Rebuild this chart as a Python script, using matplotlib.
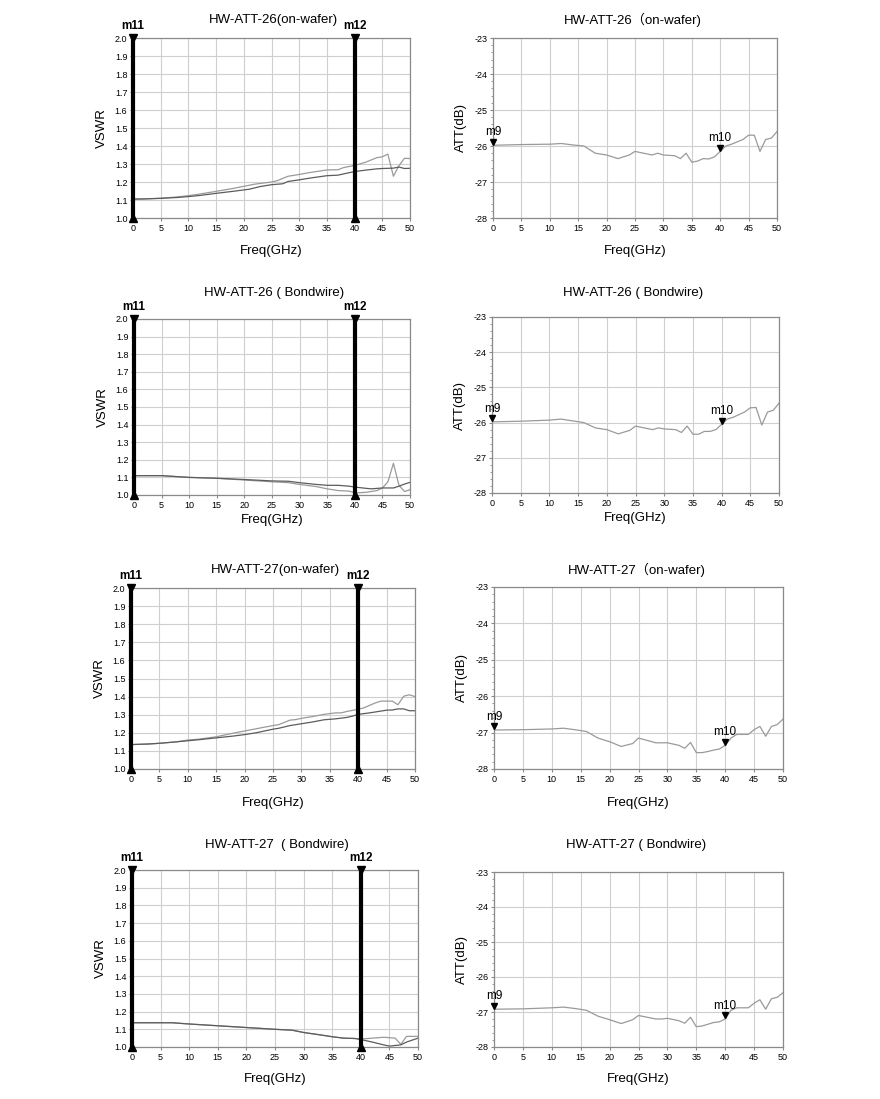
import matplotlib
matplotlib.use("Agg")
import matplotlib.pyplot as plt
from matplotlib.ticker import MultipleLocator

plt.rcParams["font.family"] = ["Liberation Sans", "DejaVu Sans"]
plt.rcParams["axes.unicode_minus"] = False

W, H = 880, 1099

# ---- VSWR data (two ports per device) ----
f26w_a = [0, 2, 5, 8, 10, 12, 15, 18, 20, 22, 25, 26, 28, 30, 32, 35, 37, 38, 40, 42, 44, 45, 46, 47, 48, 49, 50]
v26w_a = [1.105, 1.106, 1.110, 1.117, 1.124, 1.133, 1.148, 1.164, 1.176, 1.188, 1.200, 1.207, 1.232, 1.242, 1.253, 1.267, 1.268, 1.280, 1.292, 1.310, 1.335, 1.340, 1.355, 1.232, 1.290, 1.332, 1.330]
f26w_b = [0, 2, 5, 8, 10, 12, 15, 18, 20, 21, 23, 25, 27, 28, 30, 32, 35, 37, 38, 40, 42, 44, 45, 47, 48, 49, 50]
v26w_b = [1.105, 1.106, 1.109, 1.114, 1.119, 1.125, 1.137, 1.148, 1.156, 1.160, 1.175, 1.185, 1.190, 1.203, 1.212, 1.222, 1.235, 1.238, 1.245, 1.258, 1.266, 1.273, 1.275, 1.277, 1.283, 1.275, 1.276]

f26b_a = [0, 5, 10, 15, 20, 25, 28, 30, 33, 35, 37, 39, 40, 42, 44, 45, 46, 47, 48, 49, 50]
v26b_a = [1.110, 1.110, 1.100, 1.095, 1.085, 1.075, 1.070, 1.060, 1.048, 1.035, 1.025, 1.022, 1.012, 1.015, 1.025, 1.040, 1.075, 1.180, 1.055, 1.020, 1.030]
f26b_b = [0, 5, 10, 15, 20, 25, 28, 30, 33, 35, 37, 39, 40, 42, 43, 45, 47, 48, 49, 50]
v26b_b = [1.110, 1.110, 1.100, 1.095, 1.088, 1.080, 1.078, 1.070, 1.060, 1.055, 1.055, 1.050, 1.045, 1.038, 1.035, 1.040, 1.040, 1.050, 1.062, 1.072]

f27w_a = [0, 3, 5, 8, 10, 12, 15, 18, 20, 22, 25, 26, 28, 29, 30, 32, 34, 36, 37, 38, 40, 41, 43, 44, 45, 46, 47, 48, 49, 50]
v27w_a = [1.135, 1.138, 1.142, 1.150, 1.160, 1.165, 1.178, 1.198, 1.210, 1.222, 1.240, 1.245, 1.270, 1.273, 1.280, 1.290, 1.302, 1.310, 1.310, 1.318, 1.330, 1.338, 1.365, 1.375, 1.375, 1.375, 1.355, 1.402, 1.410, 1.400]
f27w_b = [0, 3, 5, 8, 10, 12, 15, 18, 20, 22, 25, 26, 28, 30, 32, 34, 36, 38, 39, 40, 42, 44, 45, 46, 47, 48, 49, 50]
v27w_b = [1.135, 1.138, 1.142, 1.150, 1.156, 1.162, 1.172, 1.182, 1.190, 1.200, 1.220, 1.225, 1.240, 1.250, 1.260, 1.272, 1.277, 1.285, 1.292, 1.302, 1.310, 1.320, 1.325, 1.326, 1.332, 1.332, 1.322, 1.322]

f27b_a = [0, 5, 7, 10, 15, 20, 25, 28, 30, 33, 35, 37, 39, 40, 42, 44, 46, 47, 48, 50]
v27b_a = [1.137, 1.137, 1.137, 1.130, 1.120, 1.110, 1.100, 1.095, 1.082, 1.068, 1.058, 1.050, 1.048, 1.045, 1.050, 1.055, 1.050, 1.015, 1.060, 1.060]
f27b_b = [0, 5, 7, 10, 15, 20, 25, 28, 30, 33, 35, 37, 39, 40, 42, 44, 45, 47, 48, 50]
v27b_b = [1.137, 1.137, 1.137, 1.130, 1.120, 1.110, 1.100, 1.095, 1.082, 1.068, 1.058, 1.050, 1.048, 1.042, 1.028, 1.012, 1.005, 1.012, 1.028, 1.050]

# ---- attenuation data ----
f_att = [0, 5, 10, 12, 14, 16, 18, 20, 22, 24, 25, 28, 29, 30, 32, 33, 34, 35, 36, 37, 38, 39, 40, 41, 42, 44, 45, 46, 47, 48, 49, 50]
a26w = [-25.98, -25.96, -25.95, -25.93, -25.97, -26.00, -26.20, -26.25, -26.35, -26.25, -26.15, -26.25, -26.20, -26.25, -26.27, -26.35, -26.20, -26.45, -26.42, -26.35, -26.36, -26.30, -26.15, -26.00, -25.95, -25.82, -25.70, -25.70, -26.15, -25.82, -25.78, -25.60]
a26b = [-25.98, -25.96, -25.93, -25.90, -25.95, -26.00, -26.15, -26.20, -26.32, -26.22, -26.10, -26.20, -26.15, -26.18, -26.20, -26.28, -26.10, -26.33, -26.33, -26.25, -26.25, -26.20, -26.05, -25.90, -25.85, -25.70, -25.58, -25.57, -26.07, -25.70, -25.65, -25.45]
a27w = [-26.93, -26.92, -26.90, -26.88, -26.92, -26.97, -27.15, -27.25, -27.38, -27.30, -27.15, -27.28, -27.28, -27.28, -27.35, -27.43, -27.27, -27.55, -27.55, -27.52, -27.48, -27.45, -27.35, -27.15, -27.05, -27.05, -26.92, -26.83, -27.10, -26.83, -26.78, -26.63]
a27b = [-26.92, -26.91, -26.88, -26.86, -26.90, -26.95, -27.12, -27.22, -27.33, -27.22, -27.10, -27.20, -27.20, -27.18, -27.25, -27.32, -27.15, -27.42, -27.40, -27.35, -27.30, -27.28, -27.20, -26.95, -26.88, -26.88, -26.75, -26.65, -26.92, -26.62, -26.58, -26.45]

vswr_titles = ["HW-ATT-26(on-wafer)", "HW-ATT-26 ( Bondwire)", "HW-ATT-27(on-wafer)", "HW-ATT-27  ( Bondwire)"]
att_titles = ["HW-ATT-26（on-wafer)", "HW-ATT-26 ( Bondwire)", "HW-ATT-27（on-wafer)", "HW-ATT-27 ( Bondwire)"]
vswr_series = [
    ((f26w_a, v26w_a), (f26w_b, v26w_b)),
    ((f26b_a, v26b_a), (f26b_b, v26b_b)),
    ((f27w_a, v27w_a), (f27w_b, v27w_b)),
    ((f27b_a, v27b_a), (f27b_b, v27b_b)),
]
att_series = [a26w, a26b, a27w, a27b]

# pixel boxes (left, top, right, bottom)
left_boxes = [(133, 38, 410, 218), (134, 319, 410, 495), (131, 588, 415, 769), (132, 870, 418, 1047)]
right_boxes = [(493, 38, 777, 218), (492, 317, 779, 493), (494, 587, 783, 769), (494, 872, 783, 1047)]
left_title_y = [20, 293, 570, 845]
right_title_y = [20, 293, 570, 845]
xlabel_pad = [9, 3, 10, 8]

GRID = "#cfcfcf"
FRAME = "#8a8a8a"
LIGHT = "#9a9a9a"
DARK = "#5c5c5c"

fig = plt.figure(figsize=(W / 100, H / 100), dpi=100)


def make_axes(box):
    l, t, r, b = box
    return fig.add_axes([l / W, 1 - b / H, (r - l) / W, (b - t) / H])


def style(ax, row):
    ax.grid(True, which="major", color=GRID, linewidth=0.8)
    ax.set_axisbelow(True)
    for s in ax.spines.values():
        s.set_color(FRAME)
        s.set_linewidth(0.9)
    ax.tick_params(which="both", labelsize=6.5, length=2, color=FRAME, pad=2)
    ax.tick_params(which="minor", length=1.5)
    ax.set_xlim(0, 50)
    ax.xaxis.set_major_locator(MultipleLocator(5))
    ax.set_xlabel("Freq(GHz)", fontsize=9.5, labelpad=xlabel_pad[row])


for i in range(4):
    ax = make_axes(left_boxes[i])
    style(ax, i)
    ax.set_ylim(1.0, 2.0)
    ax.yaxis.set_major_locator(MultipleLocator(0.1))
    ax.yaxis.set_minor_locator(MultipleLocator(0.05))
    ax.yaxis.set_major_formatter(plt.FuncFormatter(lambda v, p: f"{v:.1f}"))
    ax.set_ylabel("VSWR", fontsize=9.5, labelpad=5)
    (fa, va), (fb, vb) = vswr_series[i]
    ax.plot(fa, va, color=LIGHT, linewidth=0.9)
    ax.plot(fb, vb, color=DARK, linewidth=0.9)
    for xm, name in ((0, "m11"), (40, "m12")):
        ax.axvline(xm, color="black", linewidth=3, clip_on=False, zorder=5)
        ax.plot([xm], [2.0], marker="v", color="black", markersize=6, clip_on=False, zorder=6)
        ax.plot([xm], [1.0], marker="^", color="black", markersize=6, clip_on=False, zorder=6)
        ax.text(xm, 2.035, name, ha="center", va="bottom", fontsize=8.5, fontweight="bold")
    l, t, r, b = left_boxes[i]
    fig.text(((l + r) / 2 + 2) / W, 1 - left_title_y[i] / H, vswr_titles[i],
             ha="center", va="center", fontsize=9.5,
             family=["Liberation Sans", "Noto Sans CJK SC", "DejaVu Sans"])

for i in range(4):
    ax = make_axes(right_boxes[i])
    style(ax, i)
    ax.set_ylim(-28, -23)
    ax.yaxis.set_major_locator(MultipleLocator(1))
    ax.yaxis.set_minor_locator(MultipleLocator(0.2))
    ax.set_ylabel("ATT(dB)", fontsize=9.5, labelpad=5)
    ax.plot(f_att, att_series[i], color=LIGHT, linewidth=0.9)
    for xm, name in ((0, "m9"), (40, "m10")):
        yv = att_series[i][f_att.index(xm)]
        ax.plot([xm], [yv + 0.1], marker="v", color="black", markersize=5, clip_on=False, zorder=6)
        ax.text(xm, yv + 0.2, name, ha="center", va="bottom", fontsize=8.5)
    l, t, r, b = right_boxes[i]
    fig.text(((l + r) / 2 - 2) / W, 1 - right_title_y[i] / H, att_titles[i],
             ha="center", va="center", fontsize=9.5,
             family=["Liberation Sans", "Noto Sans CJK SC", "DejaVu Sans"])

fig.savefig("out.png", dpi=100)
